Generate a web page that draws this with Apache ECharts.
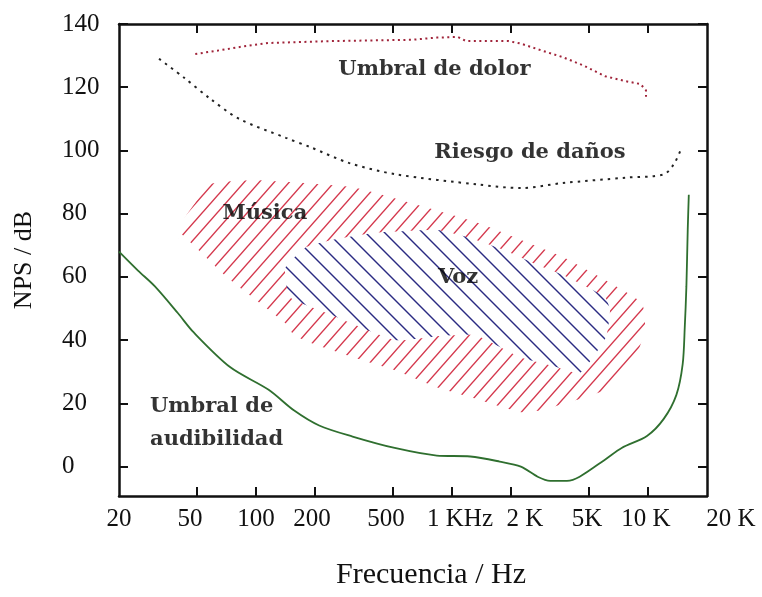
<!DOCTYPE html>
<html>
<head>
<meta charset="utf-8">
<script src="https://cdn.jsdelivr.net/npm/echarts@6/dist/echarts.min.js"></script>
<style>
html,body{margin:0;padding:0;background:#fff;}
#chart{width:762px;height:597px;}
</style>
</head>
<body>
<div id="chart"></div>
<script>
// ---------- data ----------
const freqTickValues = [50, 100, 200, 500, 1000, 2000, 5000, 10000];
const freqLabelValues = [20, 50, 100, 200, 500, 1000, 2000, 5000, 10000, 20000];
const freqLabels = ['20', '50', '100', '200', '500', '1 KHz', '2 K', '5K', '10 K', '20 K'];
const dbTicks = [0, 20, 40, 60, 80, 100, 120, 140];

// Umbral de audibilidad (green)
const hearingFreq = [20, 25, 30.5, 40, 48, 74, 116, 156, 210, 311, 510, 836, 1240, 1750, 2245, 2735, 3170, 3860, 4480, 6030, 7340, 9880, 12030, 13960, 15030, 15400, 15700, 15950, 16150];
const hearingDb   = [68, 62, 57, 48.5, 42.5, 31.4, 24.3, 17.8, 13, 9.5, 5.9, 3.5, 3.2, 1.6, 0, -3.2, -4.5, -4.5, -3.2, 2.2, 5.9, 9.7, 15.1, 22.7, 32.4, 44, 57, 75, 86];

// Umbral de dolor (red dotted)
const painFreq = [49, 67, 86, 116, 243, 622, 836, 1070, 1180, 1940, 2245, 2870, 3680, 4710, 6030, 7710, 9160, 9770, 9770];
const painDb   = [130.5, 131.8, 132.9, 134, 134.6, 135, 135.7, 135.9, 134.6, 134.6, 133.8, 131.6, 129.5, 126.8, 123.5, 121.9, 121, 119, 117];

// Riesgo de daños (black dotted)
const damageFreq = [32, 43, 58, 82, 142, 190, 300, 512, 1370, 2245, 3680, 7710, 12000, 13500, 14650];
const damageDb   = [129, 123, 116.5, 110, 104, 101, 96, 92.5, 89.2, 88.1, 89.7, 91.4, 92.4, 95.5, 100];

// Música region (red hatch)
const musicFreq = [40, 41.9, 48.9, 58.3, 100, 312, 618, 1375, 2249, 3685, 6040, 9315, 9660, 8490, 6040, 2879, 2249, 1236, 838, 512, 312, 191, 156, 141, 71.2, 41];
const musicDb   = [71.7, 77.3, 83.4, 89.4, 90.6, 88.4, 83.4, 77, 71.7, 66.3, 59, 51.7, 43.2, 33.7, 24.2, 17.9, 17.2, 22, 25.1, 30.5, 34.6, 39.1, 41.6, 45.4, 59.9, 73.9];

// Voz region (blue hatch)
const voiceFreq = [141, 180, 244, 400, 838, 1236, 1842, 2749, 3684, 6040, 6400, 6110, 4500, 3160, 2223, 1310, 869, 512, 230, 149];
const voiceDb   = [62.8, 69.4, 71.7, 73.9, 74.8, 72.3, 68.5, 63.7, 60.6, 53.6, 49.5, 41, 29.6, 32.1, 34.6, 41.6, 41.3, 40, 48.6, 53.6];

// annotations
const noteTexts = ['Umbral de dolor', 'Riesgo de daños', 'Música', 'Voz'];
const noteFreq  = [814, 2500, 111, 1074];
const noteDb    = [125.7, 99.2, 79.9, 59.9];
const hearingNote = { text: 'Umbral de\naudibilidad', freq: 28.8, db: 13.8 };

// ---------- styles ----------
const labelShift = [0, -7, 0, -3, -7, 8, 14, -2, -2, 24];
const serif = '"Liberation Serif", "Times New Roman", serif';
const slab = '"DejaVu Serif", serif';

function makeHatch(color, w, h, dir, bg, lw) {
  const c = document.createElement('canvas');
  c.width = w; c.height = h;
  const ctx = c.getContext('2d');
  if (bg) { ctx.fillStyle = bg; ctx.fillRect(0, 0, w, h); }
  ctx.strokeStyle = color; ctx.lineWidth = lw;
  for (let k = -1; k <= 1; k++) {
    ctx.beginPath();
    if (dir > 0) { ctx.moveTo(k * w - w * 0.5, h * 1.5); ctx.lineTo(k * w + w * 1.5, -h * 0.5); }
    else { ctx.moveTo(k * w - w * 0.5, -h * 0.5); ctx.lineTo(k * w + w * 1.5, h * 1.5); }
    ctx.stroke();
  }
  return c;
}
const redHatch = makeHatch('#d4374c', 15, 17, 1, null, 1.4);
const blueHatch = makeHatch('#2a2a82', 19, 19, -1, '#ffffff', 1.4);

function polyRender(fs, ds, fill) {
  return function (params, api) {
    if (params.dataIndex !== 0) return null;
    const pts = fs.map((f, i) => api.coord([f, ds[i]]));
    return { type: 'polygon', shape: { points: pts, smooth: 0.15 },
             style: { fill: { image: fill, repeat: 'repeat' }, stroke: null } };
  };
}
const pairs = (a, b) => a.map((v, i) => [v, b[i]]);

const rich = {};
labelShift.forEach((s, i) => {
  rich['l' + i] = { fontFamily: serif, fontSize: 25, color: '#111',
    padding: s >= 0 ? [0, 0, 0, 2 * s] : [0, -2 * s, 0, 0] };
});

const tickStyle = { show: true, inside: true, length: 9, lineStyle: { color: '#111', width: 2 } };
const lineStyle = { show: true, onZero: false, lineStyle: { color: '#111', width: 2.5 } };
const noteItem = { color: 'rgba(0,0,0,0)' };
const noteFont = { fontFamily: slab, fontSize: 21, fontWeight: 'bold', color: '#000' };

const chart = echarts.init(document.getElementById('chart'), null, { renderer: 'canvas' });
chart.setOption({
  animation: false,
  backgroundColor: '#fff',
  grid: { left: 119, right: 55, top: 24, bottom: 101, containLabel: false, outerBoundsMode: 'none' },
  xAxis: [{
    type: 'log', logBase: 10, min: 20, max: 20000, position: 'bottom',
    axisLine: lineStyle,
    axisTick: Object.assign({ customValues: freqTickValues }, tickStyle),
    splitLine: { show: false }, minorTick: { show: false },
    axisLabel: {
      customValues: freqLabelValues, margin: 11,
      formatter: function (v) {
        let idx = 0, best = Infinity;
        freqLabelValues.forEach((fv, i) => { const d = Math.abs(Math.log(fv) - Math.log(v)); if (d < best) { best = d; idx = i; } });
        return '{l' + idx + '|' + freqLabels[idx] + '}';
      },
      rich: rich
    },
    name: 'Frecuencia / Hz', nameLocation: 'middle', nameGap: 64,
    nameTextStyle: { fontFamily: serif, fontSize: 30, color: '#111', padding: [0, 0, 0, 36] }
  }, {
    type: 'log', logBase: 10, min: 20, max: 20000, position: 'top',
    axisLine: lineStyle,
    axisTick: Object.assign({ customValues: freqTickValues }, tickStyle),
    axisLabel: { show: false }, splitLine: { show: false }
  }],
  yAxis: [{
    type: 'value', min: -9.3, max: 140, position: 'left',
    axisLine: lineStyle,
    axisTick: Object.assign({ customValues: dbTicks }, tickStyle),
    axisLabel: { customValues: dbTicks, align: 'left', margin: 57,
      fontFamily: serif, fontSize: 25, color: '#111' },
    splitLine: { show: false },
    name: 'NPS / dB', nameLocation: 'middle', nameGap: 82,
    nameTextStyle: { fontFamily: serif, fontSize: 26, color: '#111' }
  }, {
    type: 'value', min: -9.3, max: 140, position: 'right',
    axisLine: lineStyle,
    axisTick: Object.assign({ customValues: dbTicks }, tickStyle),
    axisLabel: { show: false }, splitLine: { show: false }
  }],
  series: [
    { type: 'custom', name: 'Música', clip: true, renderItem: polyRender(musicFreq, musicDb, redHatch),
      data: pairs(musicFreq, musicDb), encode: { x: 0, y: 1 }, z: 1 },
    { type: 'custom', name: 'Voz', clip: true, renderItem: polyRender(voiceFreq, voiceDb, blueHatch),
      data: pairs(voiceFreq, voiceDb), encode: { x: 0, y: 1 }, z: 2 },
    { type: 'line', name: 'Umbral de audibilidad', data: pairs(hearingFreq, hearingDb), showSymbol: false,
      smooth: 0.3, lineStyle: { color: '#2f6f2f', width: 1.8 }, z: 3 },
    { type: 'line', name: 'Umbral de dolor', data: pairs(painFreq, painDb), showSymbol: false,
      lineStyle: { color: '#a0243a', width: 2, type: [2, 3.5] }, z: 3 },
    { type: 'line', name: 'Riesgo de daños', data: pairs(damageFreq, damageDb), showSymbol: false,
      smooth: 0.3, lineStyle: { color: '#222', width: 2, type: [2.5, 5] }, z: 3 },
    { type: 'scatter', name: 'notas', symbolSize: 2, itemStyle: noteItem, z: 5, silent: true,
      data: noteTexts.map((t, i) => ({ value: [noteFreq[i], noteDb[i]], name: t })),
      label: Object.assign({ show: true, position: 'inside', formatter: '{b}' }, noteFont) },
    { type: 'scatter', name: 'nota2', symbolSize: 2, itemStyle: noteItem, z: 5, silent: true,
      data: [{ value: [hearingNote.freq, hearingNote.db], name: hearingNote.text }],
      label: Object.assign({ show: true, position: [1, 1], align: 'left', verticalAlign: 'middle', lineHeight: 33,
        formatter: '{b}' }, noteFont) }
  ]
});
</script>
</body>
</html>
